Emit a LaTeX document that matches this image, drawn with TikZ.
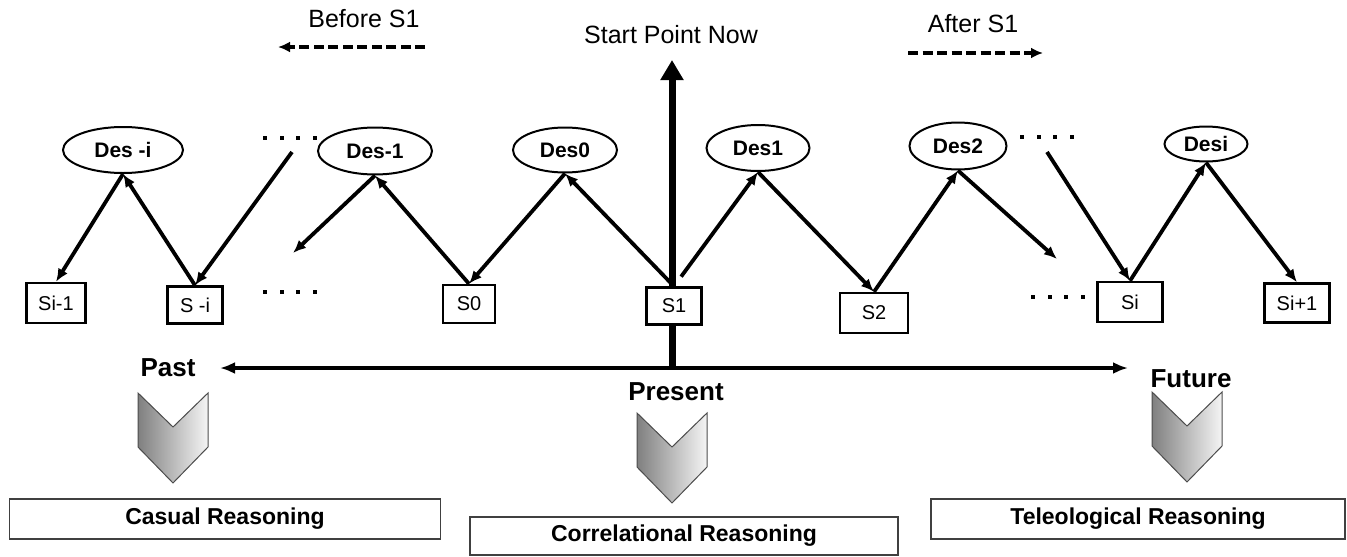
\documentclass[tikz,border=0pt]{standalone}
\usepackage{fontspec}
\setmainfont{Liberation Sans}
\usetikzlibrary{arrows.meta,shapes.geometric}
\begin{document}
\begin{tikzpicture}[x=1pt,y=-1pt,
  goal/.style={ellipse,draw,line width=2pt,inner sep=0pt,font=\fontsize{21}{24}\selectfont\bfseries},
  state/.style={rectangle,draw,line width=2.4pt,fill=white,inner sep=0pt,font=\fontsize{20}{24}\selectfont},
  link/.style={line width=3.8pt,-{Latex[length=13pt,width=11pt]}},
  timeline/.style={line width=3.6pt,dash pattern=on 10pt off 4.5pt,-{Latex[length=12pt,width=11pt]}},
  reasoning/.style={rectangle,draw=black!75,line width=1.3pt,inner sep=0pt,font=\fontsize{23}{27}\selectfont\bfseries},
  era/.style={font=\fontsize{26}{30}\selectfont\bfseries},
  caption/.style={font=\fontsize{25}{30}\selectfont},
  chevron/.pic={
    \shade[left color=black!50,right color=black!4,draw=black!70,line width=1pt,line join=miter]
      (0,0) -- (35,34) -- (70,0) -- (70,54) -- (35,90) -- (0,54) -- cycle;
  }
]
\useasboundingbox (0,0) rectangle (1347,557);

% time axis and the "now" marker
\coordinate (axL) at (220,368);
\coordinate (axR) at (1128,368);
\coordinate (axis) at (672,366);
\coordinate (now) at (672,60);
\draw[line width=3.8pt,{Latex[length=15pt,width=12pt]}-{Latex[length=15pt,width=12pt]}] (axL) -- (axR);
\draw[line width=7pt,-{Triangle[length=20pt,width=22pt]}] (axis) -- (now);

% captions on top
\node[caption] (before) at (364,19) {Before S1};
\node[caption] (after) at (973,24) {After S1};
\node[caption] (start) at (671,35) {Start Point Now};
\coordinate (b1) at (425,47);
\coordinate (b2) at (278,47);
\coordinate (a1) at (908,53);
\coordinate (a2) at (1043,53);
\draw[timeline] (b1) -- (b2);
\draw[timeline] (a1) -- (a2);

% desires
\node[goal,minimum width=120pt,minimum height=46pt] (dmi) at (123,150) {Des -i};
\node[goal,minimum width=114pt,minimum height=47pt] (dm1) at (375,151) {Des-1};
\node[goal,minimum width=104pt,minimum height=45pt] (d0) at (565,150) {Des0};
\node[goal,minimum width=103pt,minimum height=46pt] (d1) at (758,148) {Des1};
\node[goal,minimum width=97pt,minimum height=47pt] (d2) at (958,146) {Des2};
\node[goal,minimum width=83pt,minimum height=35pt] (di) at (1206,144) {Desi};

% states
\node[state,minimum width=59pt,minimum height=40pt] (sm1) at (56,303) {Si-1};
\node[state,minimum width=55pt,minimum height=37pt] (smi) at (195,305) {S -i};
\node[state,minimum width=52pt,minimum height=38pt] (s0) at (469,304) {S0};
\node[state,minimum width=55pt,minimum height=37pt] (s1) at (674,306) {S1};
\node[state,minimum width=68pt,minimum height=40pt] (s2) at (874,313) {S2};
\node[state,minimum width=65pt,minimum height=40pt] (si) at (1130,302) {Si};
\node[state,minimum width=65pt,minimum height=39pt] (sp) at (1297,303) {Si+1};

% open ends of the chain
\coordinate (f1) at (292,152);
\coordinate (f2) at (293,253);
\coordinate (f3) at (1057,259);
\coordinate (f4) at (1047,152);

% chain of states and desires
\draw[link] (dmi.south) -- (sm1.north);
\draw[link] (smi.north) -- (dmi.south);
\draw[link] (f1) -- (smi.north);
\draw[link] (dm1.south) -- (f2);
\draw[link] (s0.north) -- (dm1.south);
\draw[link] (d0.south) -- (s0.north);
\draw[link] (s1.north) -- (d0.south);
\draw[link,shorten <=12pt] (s1.north) -- (d1.south);
\draw[link] (d1.south) -- (s2.north);
\draw[link] (s2.north) -- (d2.south);
\draw[link] (d2.south) -- (f3);
\draw[link] (f4) -- (si.north);
\draw[link] (si.north) -- (di.south);
\draw[link] (di.south) -- (sp.north);

% ellipsis dots
\foreach \x/\y in {265/138,265/292,1022/137,1033/297}
  \foreach \k in {0,1,2,3}
    \fill ({\x+16.5*\k-2},{\y-2}) rectangle ++(4,4);

% eras
\node[era] (past) at (168,368) {Past};
\node[era] (present) at (676,392) {Present};
\node[era] (future) at (1191,379) {Future};

\pic at (138,393) {chevron};
\pic at (637,413) {chevron};
\pic at (1152,392) {chevron};

% kinds of reasoning
\node[reasoning,minimum width=431pt,minimum height=40pt] (causal) at (225,519) {Casual Reasoning};
\node[reasoning,minimum width=428pt,minimum height=38pt] (corr) at (684,536) {Correlational Reasoning};
\node[reasoning,minimum width=414pt,minimum height=40pt] (tele) at (1138,519) {Teleological Reasoning};
\end{tikzpicture}
\end{document}
